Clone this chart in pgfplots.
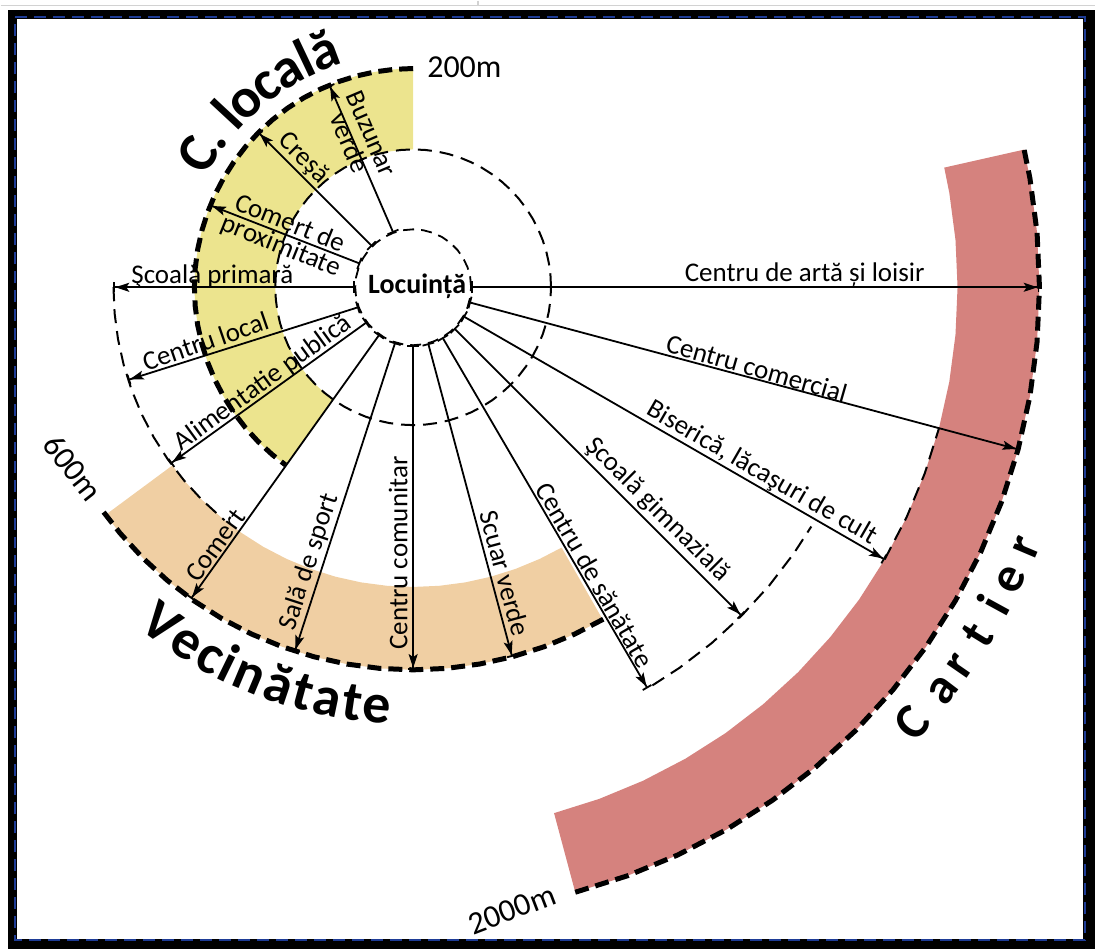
\documentclass[border=0pt]{standalone}
\usepackage{fontspec}
\setmainfont{Carlito}
\usepackage{pgfplots}
\pgfplotsset{compat=1.18}
\usetikzlibrary{arrows.meta}
\definecolor{cyellow}{RGB}{236,228,142}
\definecolor{ctan}{RGB}{240,207,163}
\definecolor{cred}{RGB}{213,130,126}
\definecolor{cnavy}{RGB}{30,60,150}
\newcommand\lab{\fontsize{27}{24}\selectfont}
\newcommand\dist{\fontsize{32}{32}\selectfont}
\newcommand\BigLbl{\fontsize{56}{56}\selectfont\bfseries}
\newcommand\CarLbl{\fontsize{50}{50}\selectfont\bfseries}
\tikzset{
  thind/.style={line width=2pt, dash pattern=on 14pt off 8pt},
  thickd/.style={line width=5pt, dash pattern=on 14pt off 7pt},
  arr/.style={line width=1.8pt, arrows={Bar[width=12pt]-Stealth[length=14pt,width=9pt,inset=3pt] Bar[width=10pt]}},
  lbl/.style={font=\lab, inner sep=0pt, align=center},
  bigl/.style={font=\BigLbl, inner sep=0pt, anchor=base},
  carl/.style={font=\CarLbl, inner sep=0pt, anchor=base},
}
\begin{document}
\begin{tikzpicture}
\begin{axis}[x=1pt, y=1pt, xmin=-413, xmax=683, ymin=-662, ymax=287,
  hide axis, clip=false, enlargelimits=false]
% bounding box
\addplot[draw=none] coordinates {(-413,-662) (683,287)};
% screenshot frame
\addplot[draw=gray!35, line width=1.2pt] coordinates {(-413,282) (683,282)};
\addplot[draw=gray!35, line width=1.2pt] coordinates {(65,287) (65,282)};
\addplot[fill=black, draw=none] coordinates {(-406,278) (-397,278) (-397,-662) (-406,-662)};
\addplot[fill=black, draw=none] coordinates {(-406,278) (683,278) (683,269) (-406,269)};
\addplot[fill=black, draw=none] coordinates {(671,278) (683,278) (683,-662) (671,-662)};
\addplot[fill=black, draw=none] coordinates {(-406,-652) (683,-652) (683,-662) (-406,-662)};
\addplot[draw=cnavy, line width=2.5pt, dash pattern=on 12pt off 7pt] coordinates {(-398.5,270.5) (672.5,270.5) (672.5,-653.5) (-398.5,-653.5) (-398.5,270.5)};
% bands
\addplot[fill=cyellow, draw=none, data cs=polar] coordinates {(90,219) (95,219) (100,219) (105,219) (110,219) (115,219) (120,219) (125,219) (130,219) (135,219) (140,219) (145,219) (150,219) (155,219) (160,219) (165,219) (170,219) (175,219) (180,219) (185,219) (190,219) (195,219) (200,219) (205,219) (210,219) (215,219) (220,219) (225,219) (230,219) (234.3,219) (234.3,138) (230,138) (225,138) (220,138) (215,138) (210,138) (205,138) (200,138) (195,138) (190,138) (185,138) (180,138) (175,138) (170,138) (165,138) (160,138) (155,138) (150,138) (145,138) (140,138) (135,138) (130,138) (125,138) (120,138) (115,138) (110,138) (105,138) (100,138) (95,138) (90,138)};
\addplot[fill=ctan, draw=none, data cs=polar] coordinates {(216.5,383) (220,383) (225,383) (230,383) (235,383) (240,383) (245,383) (250,383) (255,383) (260,383) (265,383) (270,383) (275,383) (280,383) (285,383) (290,383) (295,383) (299.7,383) (299.7,300) (295,300) (290,300) (285,300) (280,300) (275,300) (270,300) (265,300) (260,300) (255,300) (250,300) (245,300) (240,300) (235,300) (230,300) (225,300) (220,300) (216.5,300)};
\addplot[fill=cred, draw=none, data cs=polar] coordinates {(-75,627) (-70,627) (-65,627) (-60,627) (-55,627) (-50,627) (-45,627) (-40,627) (-35,627) (-30,627) (-25,627) (-20,627) (-15,627) (-10,627) (-5,627) (0,627) (5,627) (10,627) (12.7,627) (12.7,545) (10,545) (5,545) (0,545) (-5,545) (-10,545) (-15,545) (-20,545) (-25,545) (-30,545) (-35,545) (-40,545) (-45,545) (-50,545) (-55,545) (-60,545) (-65,545) (-70,545) (-75,545)};
% thin dashed arcs
\addplot[thind, data cs=polar] coordinates {(0,138) (5,138) (10,138) (15,138) (20,138) (25,138) (30,138) (35,138) (40,138) (45,138) (50,138) (55,138) (60,138) (65,138) (70,138) (75,138) (80,138) (85,138) (90,138) (95,138) (100,138) (105,138) (110,138) (115,138) (120,138) (125,138) (130,138) (135,138) (140,138) (145,138) (150,138) (155,138) (160,138) (165,138) (170,138) (175,138) (180,138) (185,138) (190,138) (195,138) (200,138) (205,138) (210,138) (215,138) (220,138) (225,138) (230,138) (235,138) (240,138) (245,138) (250,138) (255,138) (260,138) (265,138) (270,138) (275,138) (280,138) (285,138) (290,138) (295,138) (300,138) (305,138) (310,138) (315,138) (320,138) (325,138) (330,138) (335,138) (340,138) (345,138) (350,138) (355,138) (360,138)};
\addplot[thind, data cs=polar] coordinates {(180,300) (185,300) (190,300) (195,300) (200,300) (205,300) (210,300) (215,300) (220,300) (225,300) (230,300) (231,300)};
\addplot[thind, data cs=polar] coordinates {(301,465) (305,465) (310,465) (315,465) (320,465) (325,465) (329,465)};
\addplot[thind, data cs=polar] coordinates {(-30,545) (-25,545) (-20,545) (-15,545)};
% thick dashed arcs
\addplot[thickd, data cs=polar] coordinates {(90,219) (95,219) (100,219) (105,219) (110,219) (115,219) (120,219) (125,219) (130,219) (135,219) (140,219) (145,219) (150,219) (155,219) (160,219) (165,219) (170,219) (175,219) (180,219) (185,219) (190,219) (195,219) (200,219) (205,219) (210,219) (215,219) (220,219) (225,219) (230,219) (234.3,219)};
\addplot[thickd, data cs=polar] coordinates {(216,383) (220,383) (225,383) (230,383) (235,383) (240,383) (245,383) (250,383) (255,383) (260,383) (265,383) (270,383) (275,383) (280,383) (285,383) (290,383) (295,383) (300,383)};
\addplot[thickd, data cs=polar] coordinates {(-75,627) (-70,627) (-65,627) (-60,627) (-55,627) (-50,627) (-45,627) (-40,627) (-35,627) (-30,627) (-25,627) (-20,627) (-15,627) (-10,627) (-5,627) (0,627) (5,627) (10,627) (12.7,627)};
% Locuinta circle
\addplot[line width=1.8pt, dash pattern=on 11pt off 7pt, data cs=polar] coordinates {(0,58) (10,58) (20,58) (30,58) (40,58) (50,58) (60,58) (70,58) (80,58) (90,58) (100,58) (110,58) (120,58) (130,58) (140,58) (150,58) (160,58) (170,58) (180,58) (190,58) (200,58) (210,58) (220,58) (230,58) (240,58) (250,58) (260,58) (270,58) (280,58) (290,58) (300,58) (310,58) (320,58) (330,58) (340,58) (350,58) (360,58)};
% arrows
\addplot[arr, data cs=polar] coordinates {(110,58) (112.5,219)};
\addplot[arr, data cs=polar] coordinates {(135,58) (135,219)};
\addplot[arr, data cs=polar] coordinates {(156,58) (158,219)};
\addplot[arr, data cs=polar] coordinates {(180,58) (180,300)};
\addplot[arr, data cs=polar] coordinates {(200,58) (198,300)};
\addplot[arr, data cs=polar] coordinates {(217,58) (216,300)};
\addplot[arr, data cs=polar] coordinates {(234.5,58) (234.5,383)};
\addplot[arr, data cs=polar] coordinates {(252,58) (252,383)};
\addplot[arr, data cs=polar] coordinates {(270,58) (270,383)};
\addplot[arr, data cs=polar] coordinates {(285,58) (285,383)};
\addplot[arr, data cs=polar] coordinates {(300.3,58) (300.3,465)};
\addplot[arr, data cs=polar] coordinates {(315,58) (315,465)};
\addplot[arr, data cs=polar] coordinates {(330,58) (330,545)};
\addplot[arr, data cs=polar] coordinates {(345,58) (345,627)};
\addplot[arr, data cs=polar] coordinates {(0,58) (0,627)};
% labels
\node[font=\fontsize{28}{28}\selectfont\bfseries, inner sep=0pt, anchor=base] at (axis cs:4,-6) {Locuință};
\node[lbl, rotate=-67] at (axis cs:-53,149) {Buzunar\\verde};
\node[lbl, rotate=-45] at (axis cs:-110,129) {Creşă};
\node[lbl, rotate=-22] at (axis cs:-128,52) {Comert de\\proximitate};
\node[lbl, anchor=base] at (axis cs:-201,4) {Şcoală primară};
\node[lbl, rotate=19] at (axis cs:-208,-54) {Centru local};
\node[lbl, rotate=36] at (axis cs:-150,-96) {Alimentatie publică};
\node[lbl, rotate=54] at (axis cs:-198,-258) {Comert};
\node[lbl, rotate=72] at (axis cs:-104,-275) {Sală de sport};
\node[lbl, rotate=90] at (axis cs:-15,-266) {Centru comunitar};
\node[lbl, rotate=-75] at (axis cs:92,-286) {Scuar verde};
\node[lbl, rotate=-60] at (axis cs:182,-288) {Centru de sănătate};
\node[lbl, rotate=-45] at (axis cs:245,-223) {Şcoală gimnazială};
\node[lbl, rotate=-30] at (axis cs:349,-186) {Biserică, lăcaşuri de cult};
\node[lbl, rotate=-16] at (axis cs:344,-81) {Centru comercial};
\node[lbl, anchor=base] at (axis cs:392,6) {Centru de artă și loisir};
% distances
\node[font=\dist, inner sep=0pt, anchor=base west] at (axis cs:14,210) {200m};
\node[font=\dist, inner sep=0pt, rotate=-52] at (axis cs:-341,-181) {600m};
\node[font=\dist, inner sep=0pt, rotate=21] at (axis cs:99,-623) {2000m};
% C. locala
\node[bigl, rotate=58.4] at (axis cs:{235*cos(148.4)},{235*sin(148.4)}) {C};
\node[bigl, rotate=53.3] at (axis cs:{235*cos(143.3)},{235*sin(143.3)}) {.};
\node[bigl, rotate=47.1] at (axis cs:{235*cos(137.1)},{235*sin(137.1)}) {l};
\node[bigl, rotate=42.1] at (axis cs:{235*cos(132.1)},{235*sin(132.1)}) {o};
\node[bigl, rotate=36] at (axis cs:{235*cos(126)},{235*sin(126)}) {c};
\node[bigl, rotate=30.1] at (axis cs:{235*cos(120.1)},{235*sin(120.1)}) {a};
\node[bigl, rotate=25.4] at (axis cs:{235*cos(115.4)},{235*sin(115.4)}) {l};
\node[bigl, rotate=20.6] at (axis cs:{235*cos(110.6)},{235*sin(110.6)}) {ă};
% Vecinatate
\node[bigl, rotate=323.1] at (axis cs:{438*cos(233.1)},{438*sin(233.1)}) {V};
\node[bigl, rotate=327.5] at (axis cs:{438*cos(237.5)},{438*sin(237.5)}) {e};
\node[bigl, rotate=331.2] at (axis cs:{438*cos(241.2)},{438*sin(241.2)}) {c};
\node[bigl, rotate=333.95] at (axis cs:{438*cos(243.95)},{438*sin(243.95)}) {i};
\node[bigl, rotate=337.2] at (axis cs:{438*cos(247.2)},{438*sin(247.2)}) {n};
\node[bigl, rotate=341.4] at (axis cs:{438*cos(251.4)},{438*sin(251.4)}) {ă};
\node[bigl, rotate=344.8] at (axis cs:{438*cos(254.8)},{438*sin(254.8)}) {t};
\node[bigl, rotate=348.2] at (axis cs:{438*cos(258.2)},{438*sin(258.2)}) {a};
\node[bigl, rotate=351.7] at (axis cs:{438*cos(261.7)},{438*sin(261.7)}) {t};
\node[bigl, rotate=355.1] at (axis cs:{438*cos(265.1)},{438*sin(265.1)}) {e};
% Cartier
\node[carl, rotate=48.9] at (axis cs:{679*cos(-41.1)},{679*sin(-41.1)}) {C};
\node[carl, rotate=52.8] at (axis cs:{679*cos(-37.2)},{679*sin(-37.2)}) {a};
\node[carl, rotate=55.3] at (axis cs:{679*cos(-34.7)},{679*sin(-34.7)}) {r};
\node[carl, rotate=58.4] at (axis cs:{679*cos(-31.6)},{679*sin(-31.6)}) {t};
\node[carl, rotate=61.3] at (axis cs:{679*cos(-28.7)},{679*sin(-28.7)}) {i};
\node[carl, rotate=63.9] at (axis cs:{679*cos(-26.1)},{679*sin(-26.1)}) {e};
\node[carl, rotate=67] at (axis cs:{679*cos(-23)},{679*sin(-23)}) {r};
\end{axis}
\end{tikzpicture}
\end{document}
